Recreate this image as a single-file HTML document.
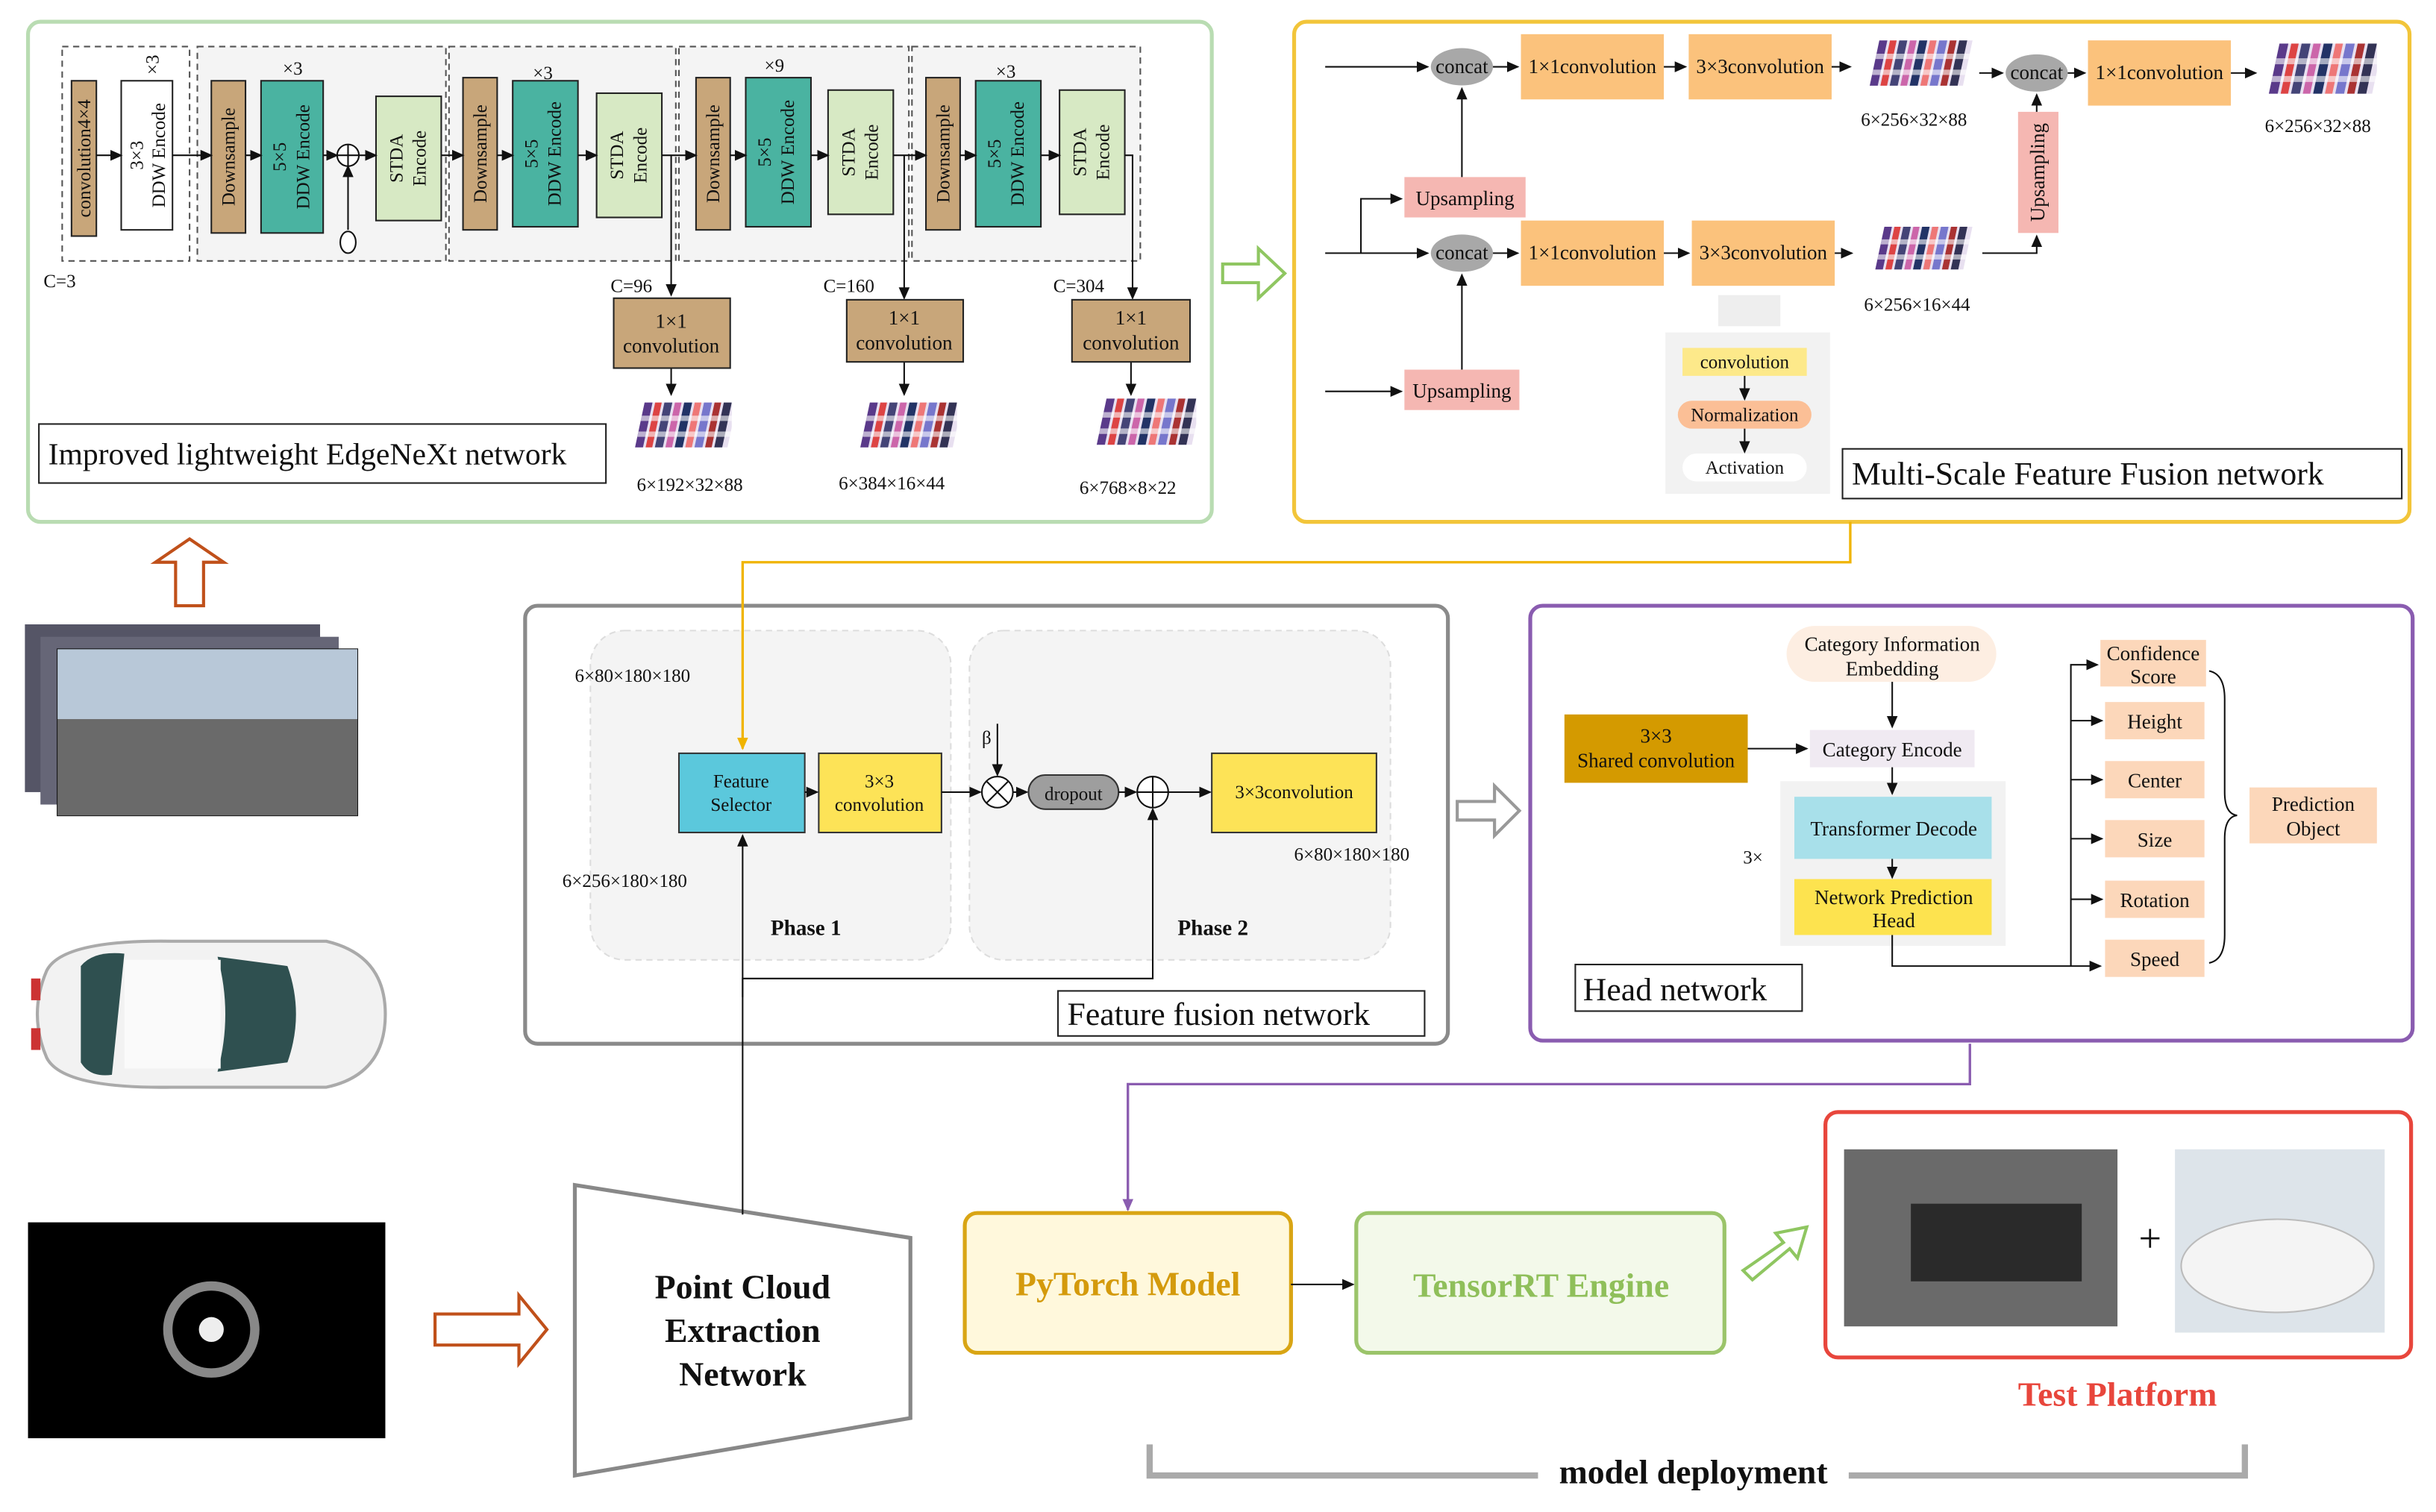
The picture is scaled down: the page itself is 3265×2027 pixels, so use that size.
<!DOCTYPE html>
<html><head><meta charset="utf-8"><style>
html,body{margin:0;padding:0;background:#fff}
svg{display:block}
text{font-family:"Liberation Serif",serif;fill:#111}
</style></head><body>
<svg width="3265" height="2027" viewBox="0 0 1568 973.5" xmlns="http://www.w3.org/2000/svg">
<defs>
<marker id="a" markerWidth="8" markerHeight="8" refX="7" refY="4" orient="auto" markerUnits="userSpaceOnUse"><path d="M0,0.5 L8,4 L0,7.5z" fill="#111"/></marker>
<marker id="ay" markerWidth="8" markerHeight="8" refX="7" refY="4" orient="auto" markerUnits="userSpaceOnUse"><path d="M0,0.5 L8,4 L0,7.5z" fill="#f0b400"/></marker>
<marker id="ap" markerWidth="8" markerHeight="8" refX="7" refY="4" orient="auto" markerUnits="userSpaceOnUse"><path d="M0,0.5 L8,4 L0,7.5z" fill="#8a5cb0"/></marker>
<symbol id="fm" viewBox="0 0 80 42">
<g transform="skewX(-12)">
<rect x="14" y="0" width="70" height="34" fill="#e8e0f0"/>
<rect x="14" y="0" width="6" height="34" fill="#5a3a8a"/><rect x="22" y="0" width="5" height="34" fill="#d44"/><rect x="29" y="0" width="6" height="34" fill="#447"/><rect x="37" y="0" width="5" height="34" fill="#c6a"/><rect x="44" y="0" width="6" height="34" fill="#236"/><rect x="52" y="0" width="5" height="34" fill="#e77"/><rect x="59" y="0" width="6" height="34" fill="#77c"/><rect x="67" y="0" width="5" height="34" fill="#a33"/><rect x="74" y="0" width="6" height="34" fill="#335"/>
<rect x="14" y="10" width="70" height="4" fill="#fff" opacity=".6"/><rect x="14" y="22" width="70" height="4" fill="#fff" opacity=".6"/>
</g></symbol>
</defs>

<!-- Panel 1 -->
<rect x="18" y="14" width="762" height="322" rx="8" fill="#fff" stroke="#b9dcb2" stroke-width="2.5"/>
<g stroke="#555" stroke-dasharray="4,3" fill="#f4f4f4">
<rect x="40" y="30" width="82" height="138" fill="#fff"/>
<rect x="127" y="30" width="160" height="138"/>
<rect x="289" y="30" width="146" height="138"/>
<rect x="437" y="30" width="148" height="138"/>
<rect x="587" y="30" width="147" height="138"/>
</g>
<g stroke="#222" stroke-width="1">
<rect x="46" y="52" width="16" height="100" fill="#c8a67a"/>
<rect x="78" y="52" width="33" height="96" fill="#fff"/>
<rect x="136" y="52" width="22" height="98" fill="#c8a67a"/>
<rect x="168" y="52" width="40" height="98" fill="#4ab3a1"/>
<rect x="242" y="62" width="42" height="80" fill="#d7e9c4"/>
<rect x="298" y="50" width="22" height="98" fill="#c8a67a"/>
<rect x="330" y="52" width="42" height="94" fill="#4ab3a1"/>
<rect x="384" y="60" width="42" height="80" fill="#d7e9c4"/>
<rect x="448" y="50" width="22" height="98" fill="#c8a67a"/>
<rect x="480" y="50" width="42" height="96" fill="#4ab3a1"/>
<rect x="533" y="58" width="42" height="80" fill="#d7e9c4"/>
<rect x="596" y="50" width="22" height="98" fill="#c8a67a"/>
<rect x="628" y="52" width="42" height="94" fill="#4ab3a1"/>
<rect x="682" y="58" width="42" height="80" fill="#d7e9c4"/>
</g>
<g font-size="12" text-anchor="middle">
<text transform="translate(58,102) rotate(-90)">convolution4×4</text>
<text transform="translate(92,100) rotate(-90)">3×3</text><text transform="translate(106,100) rotate(-90)">DDW Encode</text>
<text transform="translate(151,101) rotate(-90)">Downsample</text>
<text transform="translate(184,101) rotate(-90)">5×5</text><text transform="translate(199,101) rotate(-90)">DDW Encode</text>
<text transform="translate(259,102) rotate(-90)">STDA</text><text transform="translate(274,102) rotate(-90)">Encode</text>
<text transform="translate(313,99) rotate(-90)">Downsample</text>
<text transform="translate(346,99) rotate(-90)">5×5</text><text transform="translate(361,99) rotate(-90)">DDW Encode</text>
<text transform="translate(401,100) rotate(-90)">STDA</text><text transform="translate(416,100) rotate(-90)">Encode</text>
<text transform="translate(463,99) rotate(-90)">Downsample</text>
<text transform="translate(496,98) rotate(-90)">5×5</text><text transform="translate(511,98) rotate(-90)">DDW Encode</text>
<text transform="translate(550,98) rotate(-90)">STDA</text><text transform="translate(565,98) rotate(-90)">Encode</text>
<text transform="translate(611,99) rotate(-90)">Downsample</text>
<text transform="translate(644,99) rotate(-90)">5×5</text><text transform="translate(659,99) rotate(-90)">DDW Encode</text>
<text transform="translate(699,98) rotate(-90)">STDA</text><text transform="translate(714,98) rotate(-90)">Encode</text>
</g>
<g font-size="12"><text transform="translate(102,48) rotate(-90)">×3</text>
<text x="182" y="48">×3</text><text x="343" y="51">×3</text><text x="492" y="46">×9</text><text x="641" y="50">×3</text>
<text x="28" y="185">C=3</text><text x="393" y="188">C=96</text><text x="530" y="188">C=160</text><text x="678" y="188">C=304</text></g>
<g stroke="#111" fill="none" marker-end="url(#a)">
<path d="M62,100H78"/><path d="M111,100H136"/><path d="M158,100H168"/><path d="M208,100H217"/><path d="M231,100H242"/>
<path d="M284,100H298"/><path d="M320,100H330"/><path d="M372,100H384"/><path d="M426,100H448"/><path d="M470,100H480"/><path d="M522,100H533"/><path d="M575,100H596"/><path d="M618,100H628"/><path d="M670,100H682"/>
<path d="M432,100V190"/><path d="M582,100V192"/><path d="M724,100H729V192"/>
<path d="M432,237V254"/><path d="M582,233V254"/><path d="M728,233V254"/>
<path d="M224,148V107"/>
</g>
<circle cx="224" cy="100" r="7" fill="#fff" stroke="#111"/><path d="M217,100H231M224,93V107" stroke="#111"/>
<ellipse cx="224" cy="156" rx="5" ry="7" fill="#fff" stroke="#111"/>
<g stroke="#222" fill="#c8a67a">
<rect x="395" y="192" width="75" height="45"/><rect x="545" y="193" width="75" height="40"/><rect x="690" y="193" width="76" height="40"/></g>
<g font-size="13" text-anchor="middle"><text x="432" y="211">1×1</text><text x="432" y="227">convolution</text>
<text x="582" y="209">1×1</text><text x="582" y="225">convolution</text>
<text x="728" y="209">1×1</text><text x="728" y="225">convolution</text></g>
<use href="#fm" x="403" y="256" width="68" height="42"/><use href="#fm" x="548" y="256" width="68" height="42"/><use href="#fm" x="700" y="254" width="70" height="42"/>
<g font-size="12" text-anchor="middle"><text x="444" y="316">6×192×32×88</text><text x="574" y="315">6×384×16×44</text><text x="726" y="318">6×768×8×22</text></g>
<rect x="25" y="273" width="365" height="38" fill="#fff" stroke="#222"/>
<text x="31" y="299" font-size="20">Improved lightweight EdgeNeXt network</text>

<path d="M787,170H810V160L827,176L810,192V182H787z" fill="#fff" stroke="#8fc661" stroke-width="2"/>

<!-- Panel 2 -->
<rect x="833" y="14" width="718" height="322" rx="8" fill="#fff" stroke="#f2c53a" stroke-width="2.5"/>
<g fill="#fbc27c"><rect x="979" y="22" width="92" height="42"/><rect x="1087" y="22" width="92" height="42"/><rect x="1344" y="26" width="92" height="42"/><rect x="979" y="142" width="92" height="42"/><rect x="1089" y="142" width="92" height="42"/></g>
<g fill="#f5b7b2"><rect x="904" y="114" width="78" height="26"/><rect x="904" y="238" width="74" height="26"/><rect x="1299" y="72" width="26" height="78"/></g>
<g fill="#a8a8a8"><ellipse cx="941" cy="43" rx="20" ry="12"/><ellipse cx="941" cy="163" rx="20" ry="12"/><ellipse cx="1311" cy="47" rx="20" ry="12"/></g>
<g font-size="13" text-anchor="middle"><text x="941" y="47">concat</text><text x="941" y="167">concat</text><text x="1311" y="51">concat</text>
<text x="1025" y="47">1×1convolution</text><text x="1133" y="47">3×3convolution</text><text x="1390" y="51">1×1convolution</text>
<text x="1025" y="167">1×1convolution</text><text x="1135" y="167">3×3convolution</text>
<text x="943" y="132">Upsampling</text><text x="941" y="256">Upsampling</text>
<text transform="translate(1316,111) rotate(-90)">Upsampling</text></g>
<use href="#fm" x="1192" y="26" width="80" height="36"/><use href="#fm" x="1454" y="28" width="76" height="40"/><use href="#fm" x="1194" y="146" width="80" height="34"/>
<g font-size="12" text-anchor="middle"><text x="1232" y="81">6×256×32×88</text><text x="1492" y="85">6×256×32×88</text><text x="1234" y="200">6×256×16×44</text></g>
<g stroke="#111" fill="none" marker-end="url(#a)">
<path d="M853,43H919"/><path d="M961,43H977"/><path d="M1071,43H1085"/><path d="M1179,43H1191"/><path d="M1274,47H1289"/><path d="M1331,47H1342"/><path d="M1436,47H1452"/>
<path d="M853,163H919"/><path d="M961,163H977"/><path d="M1071,163H1087"/><path d="M1181,163H1192"/>
<path d="M941,114V57"/><path d="M941,238V177"/><path d="M876,163V128H902"/><path d="M853,252H902"/>
<path d="M1276,163H1311V152"/><path d="M1311,72V61"/>
</g>
<rect x="1072" y="214" width="106" height="104" fill="#f2f2f2"/>
<rect x="1106" y="190" width="40" height="20" fill="#eee"/>
<rect x="1083" y="224" width="80" height="18" fill="#fde98a"/>
<rect x="1080" y="258" width="86" height="18" rx="9" fill="#fbbf96"/>
<rect x="1083" y="292" width="80" height="18" rx="9" fill="#fff"/>
<g font-size="12" text-anchor="middle"><text x="1123" y="237">convolution</text><text x="1123" y="271">Normalization</text><text x="1123" y="305">Activation</text></g>
<g stroke="#111" marker-end="url(#a)"><path d="M1123,242V257"/><path d="M1123,276V291"/></g>
<rect x="1186" y="289" width="360" height="32" fill="#fff" stroke="#222"/>
<text x="1192" y="312" font-size="21">Multi-Scale Feature Fusion network</text>

<!-- Photos -->
<rect x="16" y="402" width="190" height="108" fill="#556"/><rect x="26" y="410" width="192" height="108" fill="#667"/>
<rect x="37" y="418" width="193" height="107" fill="#8a9aa8" stroke="#111"/>
<rect x="37" y="418" width="193" height="45" fill="#b8c8d8"/><rect x="37" y="463" width="193" height="62" fill="#6a6a6a"/>
<path d="M113,390H131V362H144L122,347L100,362H113z" fill="#fff" stroke="#c0501a" stroke-width="2"/>
<!-- car -->
<path d="M30,625Q40,605 110,606H210Q248,615 248,653Q248,692 210,700H110Q40,701 30,681Q18,653 30,625z" fill="#f2f2f2" stroke="#aaa" stroke-width="2"/>
<path d="M52,622Q60,612 80,614L72,692Q58,694 52,684z" fill="#2f5050"/>
<path d="M140,616L185,622Q196,653 185,684L140,690Q150,653 140,616z" fill="#2f5050"/>
<rect x="80" y="618" width="62" height="70" fill="#fafafa"/>
<rect x="20" y="630" width="6" height="14" fill="#c33"/><rect x="20" y="662" width="6" height="14" fill="#c33"/>
<rect x="18" y="787" width="230" height="139" fill="#000"/><circle cx="136" cy="856" r="28" fill="none" stroke="#888" stroke-width="6"/><circle cx="136" cy="856" r="8" fill="#eee"/>
<path d="M280,846H334V834L352,856L334,878V866H280z" fill="#fff" stroke="#c0501a" stroke-width="2"/>

<!-- Point cloud network -->
<path d="M370,763L586,797V913L370,950z" fill="#fff" stroke="#888" stroke-width="2.5"/>
<g font-size="22" font-weight="bold" text-anchor="middle"><text x="478" y="836">Point Cloud</text><text x="478" y="864">Extraction</text><text x="478" y="892">Network</text></g>

<!-- Feature fusion panel -->
<rect x="338" y="390" width="594" height="282" rx="8" fill="#fff" stroke="#8a8a8a" stroke-width="2.5"/>
<rect x="380" y="406" width="232" height="212" rx="22" fill="#f4f4f4" stroke="#ddd" stroke-dasharray="4,3"/>
<rect x="624" y="406" width="271" height="212" rx="22" fill="#f4f4f4" stroke="#ddd" stroke-dasharray="4,3"/>
<rect x="437" y="485" width="81" height="51" fill="#5bc8dc" stroke="#333"/>
<rect x="527" y="485" width="79" height="51" fill="#fde357" stroke="#333"/>
<rect x="780" y="485" width="106" height="51" fill="#fde357" stroke="#333"/>
<rect x="662" y="499" width="58" height="22" rx="11" fill="#9e9e9e" stroke="#333"/>
<circle cx="642" cy="510" r="10" fill="#fff" stroke="#111"/><path d="M635,503L649,517M649,503L635,517" stroke="#111"/>
<circle cx="742" cy="510" r="10" fill="#fff" stroke="#111"/><path d="M732,510H752M742,500V520" stroke="#111"/>
<g font-size="12" text-anchor="middle"><text x="477" y="507">Feature</text><text x="477" y="522">Selector</text>
<text x="566" y="507">3×3</text><text x="566" y="522">convolution</text><text x="833" y="514">3×3convolution</text><text x="691" y="515">dropout</text></g>
<g font-size="12"><text x="370" y="439">6×80×180×180</text><text x="362" y="571">6×256×180×180</text><text x="833" y="554">6×80×180×180</text><text x="632" y="479">β</text></g>
<g font-size="14" font-weight="bold"><text x="496" y="602">Phase 1</text><text x="758" y="602">Phase 2</text></g>
<g stroke="#111" fill="none" marker-end="url(#a)">
<path d="M518,510H526"/><path d="M606,510H631"/><path d="M652,510H661"/><path d="M720,510H731"/><path d="M752,510H779"/>
<path d="M642,466V499"/><path d="M478,782V538"/><path d="M478,642V630H742V521"/>
</g>
<rect x="681" y="638" width="236" height="29" fill="#fff" stroke="#222"/>
<text x="687" y="660" font-size="21">Feature fusion network</text>
<path d="M938,516H962V506L978,522L962,538V528H938z" fill="#fff" stroke="#999" stroke-width="2"/>

<!-- yellow connector (on top) -->
<path d="M1191,336V362H478V482" stroke="#f0b400" stroke-width="1.6" fill="none" marker-end="url(#ay)"/>

<!-- Head network -->
<rect x="985" y="390" width="568" height="280" rx="8" fill="#fff" stroke="#8a5cb0" stroke-width="2.5"/>
<rect x="1007" y="460" width="118" height="44" fill="#d49a00"/>
<rect x="1150" y="403" width="135" height="36" rx="18" fill="#fdeee2"/>
<rect x="1165" y="470" width="106" height="24" fill="#f0eaf2"/>
<rect x="1146" y="503" width="145" height="106" fill="#f2f2f2"/>
<rect x="1155" y="513" width="127" height="40" fill="#a8e0ea"/>
<rect x="1155" y="566" width="127" height="36" fill="#fde34f"/>
<g fill="#fcd7ba"><rect x="1352" y="412" width="68" height="30"/><rect x="1355" y="452" width="64" height="24"/><rect x="1355" y="490" width="64" height="24"/><rect x="1355" y="528" width="64" height="24"/><rect x="1355" y="567" width="64" height="24"/><rect x="1355" y="605" width="64" height="24"/><rect x="1448" y="507" width="82" height="36"/></g>
<g font-size="13" text-anchor="middle"><text x="1066" y="478">3×3</text><text x="1066" y="494">Shared convolution</text>
<text x="1218" y="419">Category Information</text><text x="1218" y="435">Embedding</text>
<text x="1218" y="487">Category  Encode</text><text x="1219" y="538">Transformer Decode</text>
<text x="1219" y="582">Network Prediction</text><text x="1219" y="597">Head</text>
<text x="1386" y="425">Confidence</text><text x="1386" y="440">Score</text><text x="1387" y="469">Height</text><text x="1387" y="507">Center</text><text x="1387" y="545">Size</text><text x="1387" y="584">Rotation</text><text x="1387" y="622">Speed</text>
<text x="1489" y="522">Prediction</text><text x="1489" y="538">Object</text></g>
<text x="1122" y="556" font-size="12">3×</text>
<g stroke="#111" fill="none" marker-end="url(#a)">
<path d="M1125,482H1163"/><path d="M1218,439V468"/><path d="M1218,494V511"/><path d="M1218,553V565"/>
<path d="M1218,602V622H1352"/>
<path d="M1333,622V428H1350"/><path d="M1333,464H1353"/><path d="M1333,502H1353"/><path d="M1333,540H1353"/><path d="M1333,579H1353"/>
</g>
<path d="M1422,432Q1432,434 1432,450V510Q1432,524 1440,525Q1432,526 1432,540V602Q1432,618 1422,620" stroke="#111" fill="none"/>
<rect x="1014" y="621" width="146" height="30" fill="#fff" stroke="#222"/>
<text x="1019" y="644" font-size="21">Head network</text>

<path d="M1268,672V698H726V779" stroke="#8a5cb0" stroke-width="1.6" fill="none" marker-end="url(#ap)"/>

<!-- deployment -->
<rect x="621" y="781" width="210" height="90" rx="8" fill="#fff8dc" stroke="#d9a514" stroke-width="2.5"/>
<rect x="873" y="781" width="237" height="90" rx="8" fill="#f3f9ea" stroke="#9bc46a" stroke-width="2.5"/>
<text x="726" y="834" font-size="22" font-weight="bold" text-anchor="middle" style="fill:#d49a0c">PyTorch Model</text>
<text x="992" y="835" font-size="22" font-weight="bold" text-anchor="middle" style="fill:#8fbf5a">TensorRT Engine</text>
<path d="M831,827H871" stroke="#111" marker-end="url(#a)"/>
<path d="M1122,818L1148,800L1143,794L1163,790L1157,810L1152,804L1128,824z" fill="#fff" stroke="#8fc661" stroke-width="2"/>
<rect x="1175" y="716" width="377" height="158" rx="8" fill="#fff" stroke="#e8463c" stroke-width="2.5"/>
<rect x="1187" y="740" width="176" height="114" fill="#6a6a6a"/><rect x="1230" y="775" width="110" height="50" fill="#2a2a2a"/>
<rect x="1400" y="740" width="135" height="118" fill="#dde4ea"/><ellipse cx="1466" cy="815" rx="62" ry="30" fill="#f4f4f4" stroke="#bbb"/>
<text x="1384" y="806" font-size="26" text-anchor="middle">+</text>
<text x="1363" y="905" font-size="22" font-weight="bold" text-anchor="middle" style="fill:#e8463c">Test Platform</text>
<path d="M740,930V950H990M1190,950H1445V930" stroke="#aaa" stroke-width="4" fill="none"/>
<text x="1090" y="955" font-size="22" font-weight="bold" text-anchor="middle">model deployment</text>
</svg>
</body></html>
